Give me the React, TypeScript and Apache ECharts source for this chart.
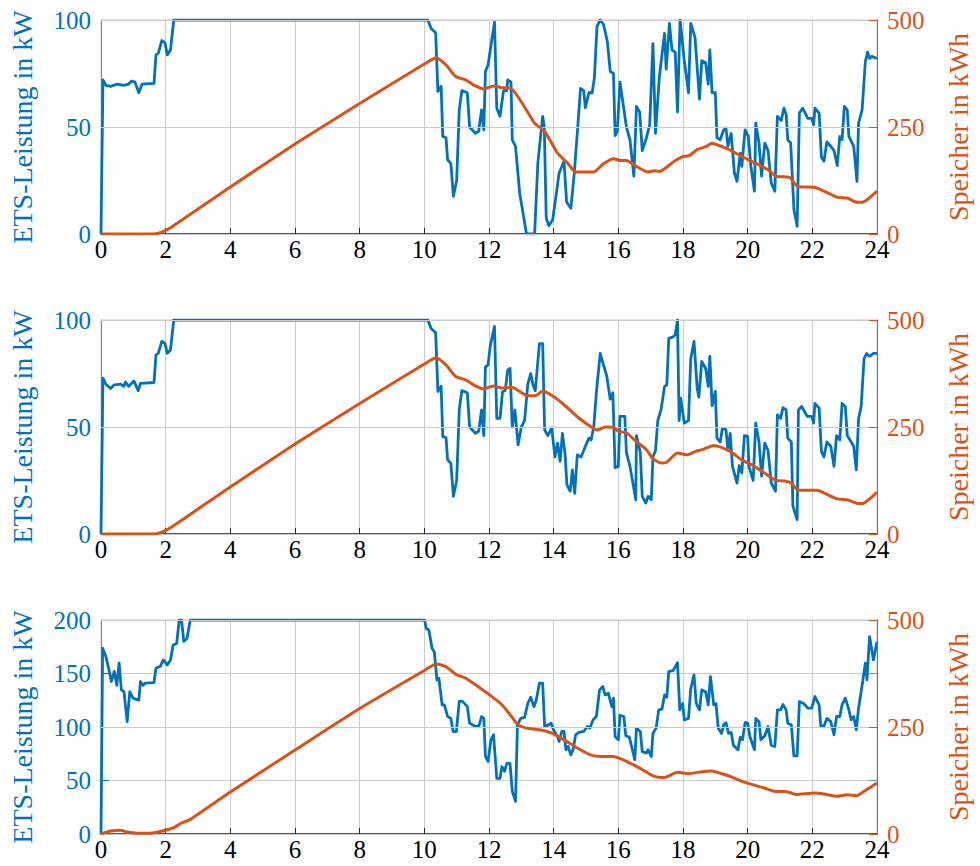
import React, { useEffect, useRef } from "react";
import * as echarts from "echarts";

// ---------- data (time in h) ----------
const xTicks = [0, 2, 4, 6, 8, 10, 12, 14, 16, 18, 20, 22, 24];

const leistung1: [number, number][] = [
  [0, 0], [0.06, 72], [0.15, 69.5], [0.3, 69], [0.5, 70], [0.7, 69.5], [0.85, 70], [0.95, 71.5], [1.05, 71], [1.17, 66], [1.27, 70], [1.64, 70.4],
  [1.7, 83.7], [1.77, 84.4], [1.88, 90.4], [1.98, 89.4], [2.05, 83.7], [2.15, 86], [2.25, 100], [10.11, 100],
  [10.21, 96], [10.35, 94], [10.42, 66.6], [10.52, 69], [10.57, 45.6], [10.67, 45], [10.72, 34.7], [10.82, 33], [10.9, 17.6], [11.0, 25],
  [11.08, 58], [11.16, 67], [11.33, 66], [11.4, 50], [11.58, 47], [11.68, 48], [11.77, 58], [11.84, 48.7], [11.89, 76], [11.97, 79],
  [12.17, 99], [12.24, 58.8], [12.34, 55], [12.45, 67], [12.55, 67], [12.58, 72], [12.68, 71], [12.72, 44], [12.82, 41], [12.95, 19],
  [13.16, 0], [13.41, 0], [13.51, 33], [13.66, 55], [13.71, 50], [13.77, 7.5], [13.85, 3.9], [13.97, 6.7], [14.07, 17.6], [14.17, 28.5],
  [14.32, 34], [14.4, 15], [14.53, 12], [14.63, 27], [14.73, 47], [14.83, 68], [14.93, 67], [14.98, 59], [15.09, 66], [15.19, 66],
  [15.26, 73], [15.34, 97], [15.44, 100], [15.54, 98], [15.66, 90], [15.75, 76], [15.85, 75], [15.9, 46], [15.97, 48], [16.05, 71],
  [16.25, 50], [16.36, 44], [16.48, 27], [16.56, 59.6], [16.66, 57], [16.74, 39], [16.87, 45], [16.97, 51], [17.07, 89], [17.15, 47],
  [17.27, 73.6], [17.43, 93.8], [17.48, 77], [17.58, 98.4], [17.66, 86], [17.76, 85], [17.83, 57], [17.91, 100], [18.04, 81], [18.17, 66],
  [18.24, 98.4], [18.37, 92], [18.51, 63], [18.58, 81], [18.7, 80], [18.78, 70], [18.83, 86], [18.9, 66], [19.0, 66], [19.05, 45],
  [19.15, 44], [19.26, 48.7], [19.33, 49.5], [19.39, 41], [19.49, 47], [19.59, 28.5], [19.67, 24.6], [19.77, 37.8], [19.82, 31.6], [19.92, 48.7],
  [20.02, 45.6], [20.1, 31.6], [20.21, 20], [20.25, 51.8], [20.35, 42.5], [20.43, 27], [20.53, 42.5], [20.63, 39], [20.73, 23.8], [20.84, 20],
  [20.92, 55], [21.04, 53], [21.12, 58.8], [21.19, 56], [21.24, 44], [21.33, 42.5], [21.43, 11.4], [21.53, 3.6], [21.6, 56.5], [21.7, 58.8],
  [21.86, 54], [21.98, 54], [22.04, 51], [22.08, 58.8], [22.21, 56.5], [22.28, 36], [22.36, 34], [22.45, 43], [22.57, 41], [22.67, 39],
  [22.77, 32], [22.85, 45.6], [22.92, 44], [22.99, 59.6], [23.08, 58], [23.13, 45.6], [23.28, 41], [23.38, 24.6], [23.43, 51.8], [23.54, 58],
  [23.64, 80.6], [23.71, 85], [23.77, 82], [23.84, 83], [24, 82],
];

const speicher1: [number, number][] = [
  [0, 0], [1.65, 0], [1.9, 5], [2.2, 17], [4, 110], [6, 210], [8, 305], [10, 397], [10.37, 412], [10.67, 395], [10.97, 368], [11.28, 360],
  [11.53, 348], [11.84, 339], [12.14, 346], [12.4, 342], [12.7, 339], [13.0, 309], [13.41, 259], [13.72, 240], [14.12, 189], [14.43, 166],
  [14.68, 145], [15.24, 145], [15.54, 164], [15.85, 176], [16.05, 172], [16.25, 172], [16.56, 158], [16.92, 145], [17.12, 148], [17.27, 146],
  [17.73, 170], [17.99, 181], [18.19, 183], [18.44, 197], [18.7, 204], [18.9, 212], [19.1, 207], [19.41, 198], [19.82, 181], [20.23, 166],
  [20.63, 150], [20.89, 135], [21.3, 132], [21.55, 111], [22.06, 109], [22.36, 100], [22.77, 86], [23.08, 84], [23.38, 74], [23.54, 74], [24, 100],
];

const leistung2: [number, number][] = [
  [0, 0], [0.06, 72.8], [0.15, 70], [0.3, 68], [0.41, 69.7], [0.61, 70], [0.71, 69], [0.76, 71], [0.86, 69], [1.02, 71.5], [1.15, 67], [1.22, 70.4],
  [1.64, 70.8], [1.7, 83.7], [1.77, 84.4], [1.88, 90], [1.98, 89], [2.05, 84.4], [2.15, 86], [2.25, 100], [10.11, 100],
  [10.21, 96], [10.35, 94], [10.42, 66.6], [10.52, 69], [10.57, 45.6], [10.67, 45], [10.72, 34.7], [10.82, 33], [10.9, 17.6], [11.0, 25],
  [11.08, 58], [11.16, 67], [11.33, 66], [11.4, 50], [11.58, 47], [11.68, 48], [11.77, 58], [11.84, 46], [11.89, 78], [11.97, 79],
  [12.04, 88], [12.17, 97], [12.24, 54], [12.34, 54], [12.42, 66.6], [12.5, 67], [12.58, 76.7], [12.65, 77.4], [12.72, 50], [12.8, 58],
  [12.9, 41.7], [13.0, 50], [13.1, 53], [13.2, 70], [13.29, 75], [13.36, 69.7], [13.43, 67], [13.56, 89], [13.66, 89], [13.72, 48.7],
  [13.82, 46], [13.94, 49.5], [14.04, 36], [14.12, 42.5], [14.2, 34], [14.27, 47], [14.35, 37.8], [14.41, 23], [14.51, 20], [14.58, 30],
  [14.65, 19], [14.73, 37], [14.85, 36], [14.98, 41], [15.09, 44.8], [15.16, 44], [15.24, 50], [15.32, 66], [15.44, 84.4], [15.54, 79],
  [15.64, 74], [15.75, 63], [15.83, 66], [15.9, 31], [16.0, 31.6], [16.05, 55], [16.2, 55], [16.25, 38], [16.36, 31.6], [16.46, 23],
  [16.54, 16], [16.56, 46], [16.68, 38], [16.74, 17.6], [16.85, 14.5], [16.92, 17.6], [17.02, 16], [17.07, 36], [17.15, 39], [17.22, 53],
  [17.32, 58], [17.43, 69], [17.5, 69.7], [17.56, 91.4], [17.68, 92], [17.76, 93], [17.83, 100], [17.88, 53], [17.93, 63.5], [18.04, 51.8],
  [18.17, 53], [18.24, 82], [18.34, 90], [18.44, 68], [18.49, 64], [18.58, 80.6], [18.7, 77.4], [18.78, 69], [18.83, 83], [18.9, 60],
  [19.0, 66.6], [19.05, 44.8], [19.15, 43], [19.22, 49.5], [19.33, 48.7], [19.39, 39], [19.46, 47], [19.53, 31.6], [19.67, 23.8], [19.74, 32],
  [19.82, 28.5], [19.9, 46], [20.0, 45.6], [20.04, 31.6], [20.17, 25], [20.25, 51.8], [20.35, 43], [20.43, 27], [20.53, 42.5], [20.63, 39],
  [20.73, 23.8], [20.86, 20], [20.92, 55.7], [21.02, 54], [21.09, 59], [21.19, 58], [21.24, 44.8], [21.35, 43], [21.4, 13], [21.53, 6.7],
  [21.57, 58], [21.67, 59.6], [21.84, 55], [21.98, 55], [22.04, 51.8], [22.08, 61], [22.21, 58.8], [22.28, 38.6], [22.36, 36], [22.45, 43],
  [22.57, 41], [22.67, 31.6], [22.75, 46], [22.85, 44], [22.92, 61], [23.02, 59.6], [23.08, 46], [23.28, 41], [23.36, 30], [23.43, 54],
  [23.51, 59.6], [23.6, 82], [23.68, 84.4], [23.77, 83], [23.89, 84.4], [24, 84.4],
];

const speicher2: [number, number][] = [
  [0, 0], [1.65, 0], [1.9, 5], [2.2, 17], [4, 110], [6, 210], [8, 305], [10, 397], [10.37, 412], [10.67, 395], [10.97, 368], [11.28, 360],
  [11.53, 348], [11.84, 339], [12.14, 346], [12.4, 341], [12.7, 343], [12.95, 333], [13.2, 323], [13.46, 324], [13.66, 334], [14.02, 320],
  [14.32, 302], [14.73, 274], [15.14, 251], [15.34, 243], [15.6, 250], [15.85, 249], [16.0, 240], [16.25, 236], [16.56, 216], [16.87, 197],
  [17.07, 176], [17.32, 166], [17.48, 167], [17.83, 189], [18.13, 185], [18.39, 193], [18.6, 197], [18.95, 207], [19.16, 203], [19.46, 193],
  [19.82, 173], [20.12, 162], [20.53, 142], [20.89, 125], [21.14, 124], [21.35, 119], [21.55, 103], [22.16, 102], [22.36, 96], [22.77, 82],
  [23.08, 80], [23.43, 71], [23.54, 71], [24, 98],
];

const leistung3: [number, number][] = [
  [0, 0], [0.05, 173.6], [0.15, 166], [0.25, 153], [0.32, 142.5], [0.41, 152], [0.49, 139], [0.56, 160], [0.63, 134.7], [0.71, 133],
  [0.81, 105], [0.89, 133], [0.99, 127], [1.17, 125], [1.22, 142.5], [1.3, 139], [1.37, 141], [1.64, 141.5], [1.7, 155], [1.83, 156.5],
  [1.93, 162.7], [2.05, 158], [2.15, 162.7], [2.23, 176.7], [2.34, 178], [2.42, 200], [2.49, 200], [2.56, 180], [2.66, 183], [2.76, 200],
  [10.01, 200], [10.06, 192], [10.14, 190.7], [10.24, 173.6], [10.31, 170], [10.39, 144], [10.45, 145.6], [10.55, 120.7], [10.62, 120.7],
  [10.72, 110], [10.82, 108], [10.89, 95.8], [10.99, 95.8], [11.08, 124], [11.18, 124], [11.33, 119], [11.4, 103.6], [11.58, 100.5],
  [11.69, 101], [11.77, 109.8], [11.84, 108], [11.89, 72.5], [11.97, 67.8], [12.06, 88], [12.14, 92.7], [12.24, 52], [12.34, 52], [12.4, 63],
  [12.48, 58.5], [12.55, 66], [12.65, 66], [12.72, 39.8], [12.82, 30.5], [12.88, 102], [12.98, 108], [13.1, 109], [13.2, 122], [13.29, 127.8],
  [13.39, 119], [13.46, 125], [13.56, 141], [13.66, 141], [13.72, 100.5], [13.84, 102], [13.92, 103.6], [14.0, 97], [14.12, 91], [14.17, 86.5],
  [14.25, 95.8], [14.32, 95.8], [14.38, 78.7], [14.45, 81.8], [14.53, 74], [14.6, 78.7], [14.68, 92.7], [14.78, 95], [14.93, 95.8],
  [15.04, 100.5], [15.12, 99], [15.22, 106.7], [15.32, 109.8], [15.42, 134.7], [15.52, 137.8], [15.59, 130], [15.69, 131.6], [15.8, 119],
  [15.85, 127], [15.9, 91], [16.0, 88], [16.05, 111], [16.17, 109.8], [16.23, 91.8], [16.34, 90.5], [16.41, 81.8], [16.51, 69.4], [16.56, 99],
  [16.68, 95.8], [16.74, 77], [16.87, 75.6], [16.92, 78.7], [17.02, 72.5], [17.07, 94], [17.17, 99], [17.25, 116], [17.35, 116.6], [17.43, 130],
  [17.5, 127.8], [17.56, 151.8], [17.7, 153], [17.83, 160], [17.9, 116], [17.99, 122], [18.04, 106.7], [18.17, 108], [18.24, 136], [18.34, 148.7],
  [18.41, 122], [18.51, 116], [18.58, 134.7], [18.7, 133], [18.78, 120.7], [18.85, 147], [18.95, 120.7], [19.02, 122], [19.09, 99], [19.19, 94],
  [19.26, 102], [19.33, 104], [19.41, 94], [19.49, 95], [19.56, 83], [19.7, 78.7], [19.77, 90.5], [19.84, 88], [19.92, 104], [20.0, 103.6],
  [20.07, 91], [20.21, 78.7], [20.25, 108], [20.35, 105], [20.41, 88], [20.53, 91.8], [20.63, 100.5], [20.73, 83], [20.84, 81.8], [20.92, 116],
  [21.02, 116], [21.09, 121], [21.19, 116], [21.24, 103.6], [21.35, 102], [21.43, 73], [21.53, 73], [21.6, 123.8], [21.73, 122], [21.86, 117.6],
  [21.98, 117.6], [22.08, 128.5], [22.21, 120.7], [22.26, 101], [22.36, 101], [22.45, 108], [22.57, 105], [22.67, 92.7], [22.75, 109.8],
  [22.85, 109.8], [22.92, 120.7], [23.02, 127], [23.13, 116], [23.2, 106.7], [23.28, 109.8], [23.36, 97.4], [23.43, 117.6], [23.54, 139],
  [23.64, 159.6], [23.69, 144], [23.77, 184.5], [23.89, 162.7], [24, 179.8],
];

const speicher3: [number, number][] = [
  [0, 0], [0.3, 7], [0.61, 8.5], [0.81, 4.7], [1.12, 2], [1.52, 2], [1.83, 6], [2.23, 14], [2.49, 25.7], [2.74, 33], [4, 98], [6, 196],
  [8, 293], [10, 382], [10.37, 397], [10.67, 391], [10.97, 373], [11.28, 364], [11.69, 343], [12.09, 321], [12.4, 302], [12.7, 274],
  [12.9, 255], [13.2, 247], [13.61, 243], [13.92, 236], [14.32, 220], [14.73, 201], [15.14, 185], [15.44, 181], [15.85, 181], [16.15, 173],
  [16.46, 162], [16.66, 154], [17.12, 134.5], [17.43, 132], [17.83, 144], [18.19, 141], [18.44, 144], [18.9, 147], [19.15, 142], [19.46, 134.5],
  [19.82, 123], [20.23, 113.5], [20.53, 107], [20.84, 99.5], [21.14, 99.5], [21.3, 97], [21.5, 92], [22.06, 95.6], [22.36, 93.3], [22.77, 88],
  [23.08, 91.8], [23.38, 89.4], [23.59, 99.5], [24, 119],
];

const leftMax = [100, 100, 200];
const rightMax = [500, 500, 500];
const leftName = "ETS-Leistung in kW";
const rightName = "Speicher in kWh";

// ---------- styles ----------
const BLUE = "#0072BD";
const ORANGE = "#D95319";
const FONT = "Liberation Serif";
const GRID_TOPS = [20, 320, 620];
const GRID_H = 214;

export default function App() {
  const ref = useRef<HTMLDivElement>(null);

  useEffect(() => {
    if (!ref.current) return;
    const chart = echarts.init(ref.current, undefined, { renderer: "svg" });
    const leistung = [leistung1, leistung2, leistung3];
    const speicher = [speicher1, speicher2, speicher3];

    const grids: any[] = [];
    const xAxes: any[] = [];
    const yAxes: any[] = [];
    const mirrorAxes: any[] = [];
    const series: any[] = [];

    for (let i = 0; i < 3; i++) {
      grids.push({
        left: 99,
        width: 788,
        top: GRID_TOPS[i],
        height: GRID_H,
        show: true,
        borderColor: "#c8c8c8",
        borderWidth: 1,
      });
      xAxes.push({
        type: "value",
        gridIndex: i,
        min: 0,
        max: 24,
        interval: 2,
        axisLine: { show: true, onZero: false, lineStyle: { color: "#262626", width: 1.5 } },
        axisTick: { show: true, inside: true, length: 6, lineStyle: { color: "#262626" } },
        axisLabel: {
          color: "#000",
          fontFamily: FONT,
          fontSize: 25,
          margin: 3,
          formatter: (v: number) => (xTicks.includes(v) ? String(v) : ""),
        },
        splitLine: { show: true, lineStyle: { color: "#cccccc", width: 1 } },
      });
      yAxes.push({
        type: "value",
        gridIndex: i,
        position: "left",
        min: 0,
        max: leftMax[i],
        interval: 50,
        name: leftName,
        nameLocation: "middle",
        nameRotate: 90,
        nameGap: 65,
        nameTextStyle: { color: BLUE, fontFamily: FONT, fontSize: 28 },
        axisLine: { show: true, lineStyle: { color: "#8a8a8a", width: 1 } },
        axisTick: { show: true, inside: true, length: 8, lineStyle: { color: BLUE } },
        axisLabel: { color: BLUE, fontFamily: FONT, fontSize: 25, margin: 10 },
        splitLine: { show: true, lineStyle: { color: "#cccccc", width: 1 } },
      });
      yAxes.push({
        type: "value",
        gridIndex: i,
        position: "right",
        min: 0,
        max: rightMax[i],
        interval: 250,
        name: rightName,
        nameLocation: "middle",
        nameRotate: 90,
        nameGap: 67,
        nameTextStyle: { color: ORANGE, fontFamily: FONT, fontSize: 28 },
        axisLine: { show: true, lineStyle: { color: ORANGE, width: 1 } },
        axisTick: { show: true, inside: true, length: 8, lineStyle: { color: ORANGE } },
        axisLabel: { color: ORANGE, fontFamily: FONT, fontSize: 25, margin: 10 },
        splitLine: { show: true, lineStyle: { color: "#cccccc", width: 1 } },
        z: 3,
      });
      // mirrored left-axis ticks on the right edge (no labels)
      mirrorAxes.push({
        type: "value",
        gridIndex: i,
        position: "right",
        min: 0,
        max: leftMax[i],
        interval: 50,
        axisLine: { show: false },
        axisTick: { show: true, inside: true, length: 8, lineStyle: { color: "#5b9bd5" } },
        axisLabel: { show: false },
        splitLine: { show: false },
        z: 1,
      });
      series.push({
        type: "line",
        xAxisIndex: i,
        yAxisIndex: 2 * i,
        data: leistung[i],
        showSymbol: false,
        symbol: "none",
        lineStyle: { color: BLUE, width: 2.8, join: "round" },
        z: 2,
      });
      series.push({
        type: "line",
        xAxisIndex: i,
        yAxisIndex: 2 * i + 1,
        data: speicher[i],
        showSymbol: false,
        symbol: "none",
        smooth: 0.2,
        lineStyle: { color: ORANGE, width: 3, join: "round" },
        z: 3,
      });
    }

    chart.setOption({
      animation: false,
      backgroundColor: "#ffffff",
      textStyle: { fontFamily: FONT },
      grid: grids,
      xAxis: xAxes,
      yAxis: yAxes.concat(mirrorAxes),
      series,
    });
    return () => chart.dispose();
  }, []);

  return (
    <>
      <style>{`#chart-root svg text { font-family: "Liberation Serif", serif !important; }`}</style>
      <div
        id="chart-root"
        ref={ref}
        style={{ position: "fixed", left: 0, top: 0, width: 980, height: 866, background: "#fff" }}
      />
    </>
  );
}
